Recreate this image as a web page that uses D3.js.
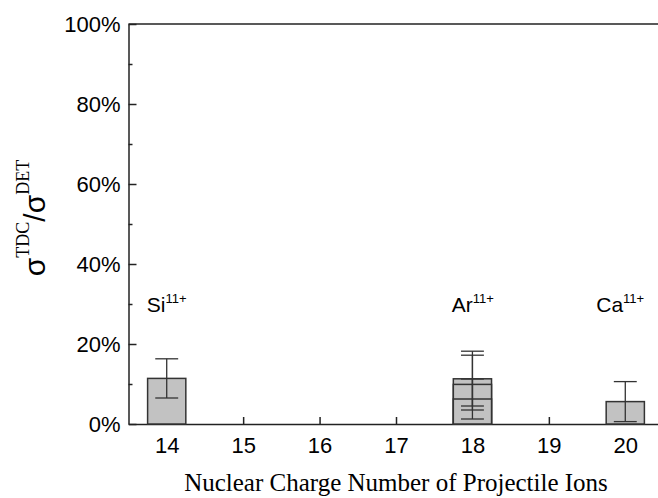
<!DOCTYPE html>
<html>
<head>
<meta charset="utf-8">
<script src="https://d3js.org/d3.v7.min.js"></script>
<style>
body { margin: 0; background: #fff; }
.axis text { font-family: Arial, "Liberation Sans", sans-serif; font-size: 22px; fill: #000; }
.axis path, .axis line { stroke: #222; stroke-width: 1.5; }
</style>
</head>
<body>
<div id="chart"></div>
<script>
var width = 658, height = 498;

// data
var categories = [14, 15, 16, 17, 18, 19, 20];
var barX = [18, 18, 14, 18, 20];
var barVal = [11.3, 9.9, 11.4, 6.25, 5.6];
var errLow = [4.5, 3.5, 6.5, 1.25, 0.6];
var errHigh = [18.2, 17.2, 16.3, 11.25, 10.6];
var ionNames = ["Si", "Ar", "Ca"];
var ionCharge = ["11+", "11+", "11+"];
var ionX = [13.74, 17.73, 19.62];
var ionY = [28, 28, 28];
var yTicks = [0, 20, 40, 60, 80, 100];
var yMinor = [10, 30, 50, 70, 90];

var mLeft = 128.5, mTop = 24, mBottom = 424, mRight = 663.5;

var x = d3.scaleLinear().domain([13.5, 20.5]).range([mLeft, mRight]);
var y = d3.scaleLinear().domain([0, 100]).range([mBottom, mTop]);

var svg = d3.select("#chart")
            .append("svg")
            .attr("width", width)
            .attr("height", height);

// top frame line
svg.append("line")
   .attr("x1", mLeft).attr("x2", mRight)
   .attr("y1", mTop).attr("y2", mTop)
   .attr("stroke", "#222").attr("stroke-width", 1.5);

svg.append("g")
   .attr("class", "axis")
   .attr("transform", "translate(0," + mBottom + ")")
   .call(d3.axisBottom(x).tickValues(categories).tickSizeInner(-7).tickSizeOuter(0).tickPadding(13).tickFormat(d3.format("d")));

svg.append("g")
   .attr("class", "axis")
   .attr("transform", "translate(" + mLeft + ",0)")
   .call(d3.axisLeft(y).tickValues(yMinor).tickSize(-4).tickFormat(""))
   .select(".domain").remove();

svg.append("g")
   .attr("class", "axis")
   .attr("transform", "translate(" + mLeft + ",0)")
   .call(d3.axisLeft(y).tickValues(yTicks).tickSizeInner(-8).tickSizeOuter(0).tickPadding(8).tickFormat(function(d) { return d + "%"; }));

var bw = 0.5, cap = 0.15;

var bars = svg.append("g");
barX.forEach(function(c, i) {
  bars.append("rect")
      .attr("x", x(c - bw / 2))
      .attr("y", y(barVal[i]))
      .attr("width", x(c + bw / 2) - x(c - bw / 2))
      .attr("height", y(0) - y(barVal[i]))
      .attr("fill", "#c2c2c2")
      .attr("stroke", "#333")
      .attr("stroke-width", 1.5);
});

var errs = svg.append("g").attr("stroke", "#333").attr("stroke-width", 1.3);
barX.forEach(function(c, i) {
  errs.append("line")
      .attr("x1", x(c)).attr("x2", x(c))
      .attr("y1", y(errLow[i])).attr("y2", y(errHigh[i]));
  [errLow[i], errHigh[i]].forEach(function(v) {
    errs.append("line")
        .attr("x1", x(c - cap)).attr("x2", x(c + cap))
        .attr("y1", y(v)).attr("y2", y(v));
  });
});

// ion labels
ionNames.forEach(function(n, i) {
  var t = svg.append("text")
     .attr("x", x(ionX[i]))
     .attr("y", y(ionY[i]))
     .style("font-family", "Arial, 'Liberation Sans', sans-serif")
     .style("font-size", "21px");
  t.append("tspan").text(n);
  t.append("tspan").attr("dy", -9).style("font-size", "13px").text(ionCharge[i]);
});

// y title
var yt = svg.append("text")
   .attr("transform", "translate(45,218) rotate(-90)")
   .attr("text-anchor", "middle")
   .style("font-family", "Arial, 'Liberation Sans', sans-serif")
   .style("font-size", "30px");
yt.append("tspan").text("σ");
yt.append("tspan").attr("dy", -16).style("font-family", "'Liberation Serif', 'Times New Roman', serif").style("font-size", "18px").text("TDC");
yt.append("tspan").attr("dy", 16).text("/σ");
yt.append("tspan").attr("dy", -16).style("font-family", "'Liberation Serif', 'Times New Roman', serif").style("font-size", "18px").text("DET");

// x title
svg.append("text")
   .attr("x", (mLeft + mRight) / 2)
   .attr("y", 491)
   .attr("text-anchor", "middle")
   .style("font-family", "'Liberation Serif', 'Times New Roman', serif")
   .style("font-size", "25px")
   .text("Nuclear Charge Number of Projectile Ions");
</script>
</body>
</html>
